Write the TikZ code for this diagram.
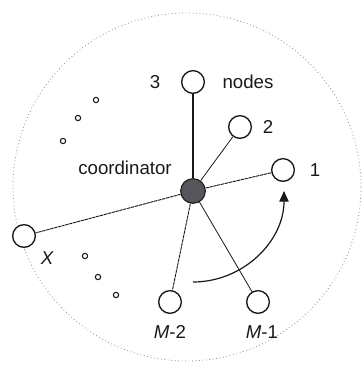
\documentclass[tikz,border=0pt]{standalone}
\usepackage{fontspec}
\setmainfont{Liberation Sans}
\usepackage{tikz}
\usetikzlibrary{calc,arrows.meta}
\usepackage{xcolor}
\definecolor{ink}{RGB}{25,25,25}
\definecolor{hubfill}{RGB}{85,85,92}
\definecolor{rim}{RGB}{140,140,140}
\tikzset{
  wnode/.style={circle,draw=ink,line width=1pt,fill=white,minimum size=17pt,inner sep=0pt},
  whub/.style={circle,draw=ink,line width=0.8pt,fill=hubfill,minimum size=18.5pt,inner sep=0pt},
  wlink/.style={ink,line width=0.6pt},
  wdash/.style={ink,line width=0.7pt,dash pattern=on 2.5pt off 0.5pt},
  wring/.style={circle,draw=ink,line width=0.8pt,minimum size=4pt,inner sep=0pt},
  wlab/.style={ink,font=\fontsize{14}{16}\selectfont,inner sep=0pt},
}

\begin{document}
\begin{tikzpicture}[x=0.75pt,y=0.75pt]
  \useasboundingbox (0,0) rectangle (362,367);
  \draw[rim,line width=0.6pt,dotted] (187,180) circle[radius=130.5pt];
  \node[whub] (hub) at (193,176) {};
  \node[wnode] (n3) at (193,285) {};
  \node[wnode] (n2) at (240,240) {};
  \node[wnode] (n1) at (283,197) {};
  \node[wnode] (nx) at (24,131) {};
  \node[wnode] (nm2) at (170,65) {};
  \node[wnode] (nm1) at (258,65) {};
  \draw[wlink,line width=1pt] (hub) -- (n3);
  \draw[wlink] (hub) -- (n2);
  \draw[wdash] (hub) -- (n1);
  \draw[wdash] (hub) -- (nx);
  \draw[wdash] (hub) -- (nm2);
  \draw[wlink] (hub) -- (nm1);
  \foreach \px/\py in {96/267,78/249,63/226,85/111,98/90,116/72}
    \node[wring] at (\px,\py) {};
  \node[wlab] (l3) at (155,285) {3};
  \node[wlab] (lnodes) at (248,285) {nodes};
  \node[wlab] (l2) at (268,240) {2};
  \node[wlab] (l1) at (315,197) {1};
  \node[wlab] (lcoord) at (125,199) {coordinator};
  \node[wlab] (lx) at (47,109) {\itshape X};
  \node[wlab] (lm2) at (170,35) {\itshape M\upshape -2};
  \node[wlab] (lm1) at (262,35) {\itshape M\upshape -1};
  \coordinate (a0) at ($(hub)+(0,-91)$);
  \draw[ink,line width=0.9pt,-{Triangle[length=8pt,width=7pt]}]
    (a0) arc[start angle=-90,end angle=0,radius=68.25pt];
\end{tikzpicture}
\end{document}
